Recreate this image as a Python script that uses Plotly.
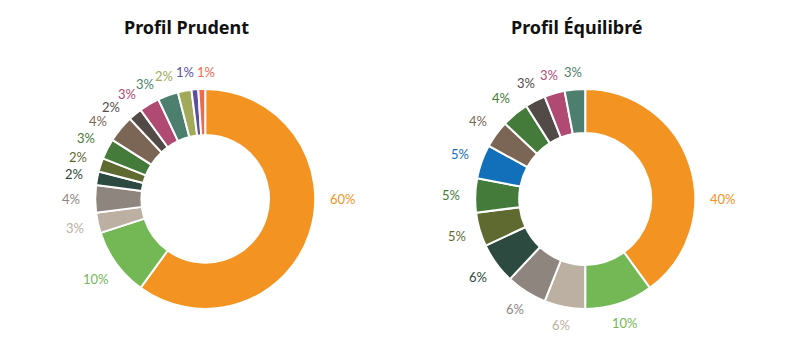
import math
import plotly.graph_objects as go

# Profil Prudent
prudent_values = [60, 10, 3, 4, 2, 2, 3, 4, 2, 3, 3, 2, 1, 1]
prudent_colors = ["#F39322", "#73B855", "#BCB0A3", "#8E857F", "#2C4A40", "#5F6A31",
                  "#447A3A", "#7B6656", "#524A47", "#B04A73", "#4C7F6D", "#A1AA59",
                  "#5B50A0", "#EE6A4E"]

# Profil Équilibré
equilibre_values = [40, 10, 6, 6, 6, 5, 5, 5, 4, 4, 3, 3, 3]
equilibre_colors = ["#F39322", "#73B855", "#BCB0A3", "#8E857F", "#2C4A40", "#5F6A31",
                    "#447A3A", "#1170B9", "#7B6656", "#447A3A", "#524A47", "#B04A73",
                    "#4C7F6D"]

titles = ["Profil Prudent", "Profil Équilibré"]

W, H = 800, 352
FONT = "Lato"
DOM_Y = [0.1225, 0.7475]
DOMS_X = [[0.119, 0.394], [0.594, 0.869]]


def donut(values, colors, xdom, hole):
    return go.Pie(
        values=values,
        textinfo="none",
        marker=dict(colors=colors, line=dict(color="white", width=2)),
        hole=hole,
        sort=False,
        direction="clockwise",
        rotation=0,
        domain=dict(x=xdom, y=DOM_Y),
        showlegend=False,
        hoverinfo="skip",
    )


def label_angles(values):
    """Mid-angle of each slice (degrees clockwise from top), spread to avoid overlap."""
    total = float(sum(values))
    angs = []
    cum = 0.0
    for v in values:
        a0 = cum / total * 360
        cum += v
        a1 = cum / total * 360
        # label the big slice holding the 3 o'clock direction at 3 o'clock
        angs.append(90.0 if a0 <= 90 <= a1 and (a1 - a0) > 90 else (a0 + a1) / 2)
    # relaxation to keep neighbouring labels apart, never past 12 o'clock
    for _ in range(600):
        for i in range(len(angs) - 1):
            mid = (angs[i] + angs[i + 1]) / 2
            g = 6.8 + 2.7 * abs(math.cos(math.radians(mid)))
            d = angs[i + 1] - angs[i]
            if d < g:
                push = (g - d) / 2
                angs[i] -= push
                angs[i + 1] += push
        angs[-1] = min(angs[-1], 360.5)
    return angs


def add_labels(fig, values, colors, xdom):
    cx = (xdom[0] + xdom[1]) / 2 * W
    cy = (1 - (DOM_Y[0] + DOM_Y[1]) / 2) * H
    for v, c, a in zip(values, colors, label_angles(values)):
        rad = math.radians(a)
        txt = f"{v}%"
        r = 127 + 3.5 * len(txt) * abs(math.sin(rad))
        x = cx + r * math.sin(rad)
        y = cy - r * math.cos(rad)
        fig.add_annotation(text=txt, x=x / W, y=1 - y / H, xref="paper", yref="paper",
                           showarrow=False, xanchor="center", yanchor="middle",
                           font=dict(size=13, color=c, family=FONT))


fig = go.Figure()
fig.add_trace(donut(prudent_values, prudent_colors, DOMS_X[0], 0.58))
fig.add_trace(donut(equilibre_values, equilibre_colors, DOMS_X[1], 0.6))
add_labels(fig, prudent_values, prudent_colors, DOMS_X[0])
add_labels(fig, equilibre_values, equilibre_colors, DOMS_X[1])

for t, xc in zip(titles, [186.5 / W, 576.5 / W]):
    fig.add_annotation(text=f"<b>{t}</b>", x=xc, y=1 - 27 / H, xref="paper", yref="paper",
                       showarrow=False, font=dict(size=18, color="#111111", family="Noto Sans"),
                       xanchor="center", yanchor="middle")

fig.update_layout(width=W, height=H, margin=dict(l=0, r=0, t=0, b=0),
                  paper_bgcolor="white", plot_bgcolor="white")

fig.write_html("out.html")
